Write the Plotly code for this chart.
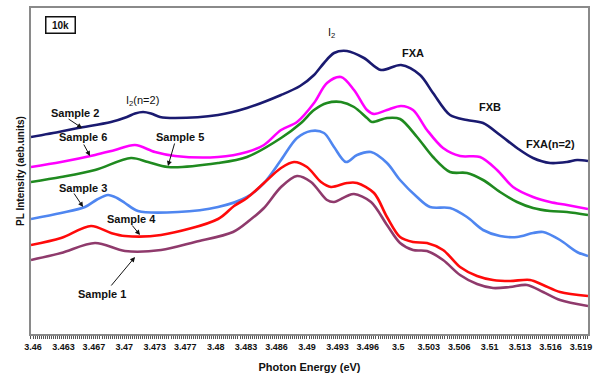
import plotly.graph_objects as go

# ---- data (photon energy in eV, PL intensity in arbitrary units) ----
e_s2 = [3.45978, 3.46307, 3.46493, 3.46854, 3.47029, 3.47117, 3.47205, 3.47292, 3.47391, 3.47555, 3.48026, 3.48343,
        3.48716, 3.48924, 3.49077, 3.49186, 3.49296, 3.49438, 3.49624, 3.49811, 3.50030, 3.50238,
        3.50380, 3.50566, 3.50752, 3.50928, 3.51114, 3.51300, 3.51475, 3.51661, 3.51847, 3.51957, 3.52077]
i_s2 = [197, 202.5, 206, 212, 217, 220.5, 222, 220.5, 217, 216, 219, 226, 239, 248, 259, 271, 281, 283, 276, 264, 269, 259,
        241, 219, 214, 211, 199, 186, 176, 171, 172, 174, 173]

e_s6 = [3.45978, 3.46307, 3.46679, 3.46898, 3.47117, 3.47336, 3.47555, 3.48026, 3.48343, 3.48529,
        3.48716, 3.48891, 3.49077, 3.49219, 3.49373, 3.49515, 3.49657, 3.49734, 3.49876, 3.50030,
        3.50161, 3.50314, 3.50490, 3.50676, 3.50895, 3.51081, 3.51256, 3.51475, 3.51661, 3.51847, 3.52077]
i_s6 = [167, 172, 179, 184, 189, 182, 178, 177, 182, 189, 204, 212, 231, 251, 257, 244, 224, 220, 224, 228,
        224, 204, 186, 178, 177, 164, 147, 137, 132, 129, 125]

e_s5 = [3.45978, 3.46307, 3.46679, 3.47073, 3.47259, 3.47478, 3.48026, 3.48343, 3.48716, 3.48935,
        3.49077, 3.49219, 3.49373, 3.49515, 3.49657, 3.49712, 3.49876, 3.50019, 3.50205, 3.50380,
        3.50566, 3.50752, 3.50928, 3.51114, 3.51300, 3.51475, 3.51661, 3.51847, 3.52077]
i_s5 = [152, 157, 164, 176, 172, 167, 171, 177, 196, 211, 224, 231, 232, 227, 216, 212, 216, 215, 197, 177,
        162, 161, 154, 142, 132, 126, 123, 122, 119]

e_s3 = [3.45978, 3.46307, 3.46569, 3.46701, 3.46821, 3.46920, 3.47007, 3.47150, 3.47588, 3.48026, 3.48343, 3.48529,
        3.48716, 3.48891, 3.49044, 3.49186, 3.49296, 3.49427, 3.49548, 3.49701, 3.49876, 3.50019,
        3.50205, 3.50347, 3.50566, 3.50752, 3.50928, 3.51114, 3.51300, 3.51475, 3.51585, 3.51771,
        3.51957, 3.52077]
i_s3 = [115, 121, 127, 134.5, 139, 136, 131, 123, 122, 127, 137, 151, 174, 196, 203, 201, 187, 172, 179, 182, 171, 154,
        137, 127, 126, 117, 104, 98, 97, 101, 102, 94, 82, 78]

e_s4 = [3.45978, 3.46307, 3.46635, 3.46854, 3.47007, 3.47402, 3.48026, 3.48201, 3.48343, 3.48529,
        3.48716, 3.48858, 3.49000, 3.49154, 3.49263, 3.49438, 3.49548, 3.49734, 3.49876, 3.50019,
        3.50161, 3.50314, 3.50490, 3.50676, 3.50862, 3.51037, 3.51223, 3.51442, 3.51585, 3.51771, 3.52077]
i_s4 = [89, 96, 108, 101, 98, 99, 115, 128, 136, 151, 166, 172, 167, 152, 147, 151, 151, 141, 117, 97,
        92, 91, 84, 67, 58, 54, 53, 54, 49, 42, 38]

e_s1 = [3.45978, 3.46307, 3.46679, 3.47007, 3.47402, 3.47774, 3.48190, 3.48376, 3.48529, 3.48716,
        3.48891, 3.49044, 3.49219, 3.49296, 3.49438, 3.49515, 3.49701, 3.49876, 3.50019, 3.50161,
        3.50314, 3.50490, 3.50676, 3.50862, 3.51037, 3.51223, 3.51409, 3.51585, 3.51771, 3.52077]
i_s1 = [74, 81, 91, 83, 84, 92, 102, 114, 126, 147, 158, 152, 134, 132, 138, 140, 132, 109, 91, 84,
        83, 74, 59, 50, 46, 47, 49, 42, 34, 28]

tick_labels = ["3.46", "3.463", "3.467", "3.47", "3.473", "3.477", "3.48", "3.483", "3.486", "3.49",
               "3.493", "3.496", "3.5", "3.503", "3.506", "3.51", "3.513", "3.516", "3.519"]
tick_step = 1 / 300.0
tick_vals = [3.46 + k * tick_step for k in range(len(tick_labels))]

series = [
    ("Sample 2", e_s2, i_s2, "#1a1a70"),
    ("Sample 6", e_s6, i_s6, "#ff00ff"),
    ("Sample 5", e_s5, i_s5, "#1f8a1f"),
    ("Sample 3", e_s3, i_s3, "#4f86f0"),
    ("Sample 4", e_s4, i_s4, "#ff0a0a"),
    ("Sample 1", e_s1, i_s1, "#8f3a6c"),
]

FONT = "Liberation Sans, Arial, sans-serif"

fig = go.Figure()
for name, xs, ys, col in series:
    fig.add_trace(go.Scatter(x=xs, y=ys, mode="lines", name=name,
                             line=dict(color=col, width=2.6, shape="spline", smoothing=0.9),
                             showlegend=False, hoverinfo="skip"))

# text labels (x in eV, y in intensity units)
labels = [
    ("<b>Sample 2</b>", 3.46460, 221),
    ("<b>Sample 6</b>", 3.46548, 197),
    ("<b>Sample 5</b>", 3.47610, 197),
    ("<b>Sample 3</b>", 3.46548, 146),
    ("<b>Sample 4</b>", 3.47073, 115),
    ("<b>Sample 1</b>", 3.46756, 40),
    ("I<sub>2</sub>(n=2)", 3.47194, 233),
    ("I<sub>2</sub>", 3.49263, 301),
    ("<b>FXA</b>", 3.50161, 281),
    ("<b>FXB</b>", 3.51004, 227),
    ("<b>FXA(n=2)</b>", 3.51661, 190),
]
anns = []
for txt, xv, yv in labels:
    anns.append(dict(x=xv, y=yv, xref="x", yref="y", text=txt,
                     showarrow=False, font=dict(family=FONT, size=11, color="#111111")))

# arrows: head position in data units, tail offset in pixels
arrows = [
    (3.46537, 206, -15, -10),
    (3.46624, 178, -7, -13),
    (3.47478, 168, 7, -24),
    (3.46548, 127, -10, -15),
    (3.47172, 99, -9, -11),
    (3.47117, 77, -25, 30),
]
for xv, yv, axp, ayp in arrows:
    anns.append(dict(x=xv, y=yv, xref="x", yref="y", text="", showarrow=True,
                     ax=axp, ay=ayp, arrowhead=2, arrowsize=1, arrowwidth=1, arrowcolor="#111111"))

# 10k box
anns.append(dict(x=3.46296, y=309, xref="x", yref="y", text="<b>10k</b>", showarrow=False,
                 font=dict(family=FONT, size=10, color="#111111"), bordercolor="#111111", borderwidth=1.5,
                 borderpad=2, bgcolor="white", width=24))

fig.update_layout(
    width=598, height=375,
    margin=dict(l=31, r=10, t=8, b=41),
    paper_bgcolor="white", plot_bgcolor="white",
    annotations=anns,
    font=dict(family=FONT, color="#111111"),
    xaxis=dict(
        range=[3.45978, 3.52077],
        tickmode="array", tickvals=tick_vals, ticktext=["<b>" + t + "</b>" for t in tick_labels],
        tickfont=dict(family=FONT, size=9, color="#111111"),
        ticks="outside", ticklen=3, tickcolor="#555555", tickwidth=1,
        minor=dict(dtick=tick_step / 15, tick0=3.46, ticks="outside", ticklen=3, tickcolor="#555555", tickwidth=0.8),
        showgrid=False, zeroline=False, automargin=False,
        showline=True, linecolor="#8a8a8a", linewidth=1.5, mirror=True,
        title=dict(text="<b>Photon Energy (eV)</b>", font=dict(family=FONT, size=11, color="#111111"), standoff=13),
    ),
    yaxis=dict(
        range=[0, 326], showticklabels=False, ticks="", showgrid=False, zeroline=False, automargin=False,
        showline=True, linecolor="#8a8a8a", linewidth=1.5, mirror=True,
        title=dict(text="<b>PL Intensity (aeb.units)</b>", font=dict(family=FONT, size=10, color="#111111"), standoff=3),
    ),
)

fig.write_html("out.html")
